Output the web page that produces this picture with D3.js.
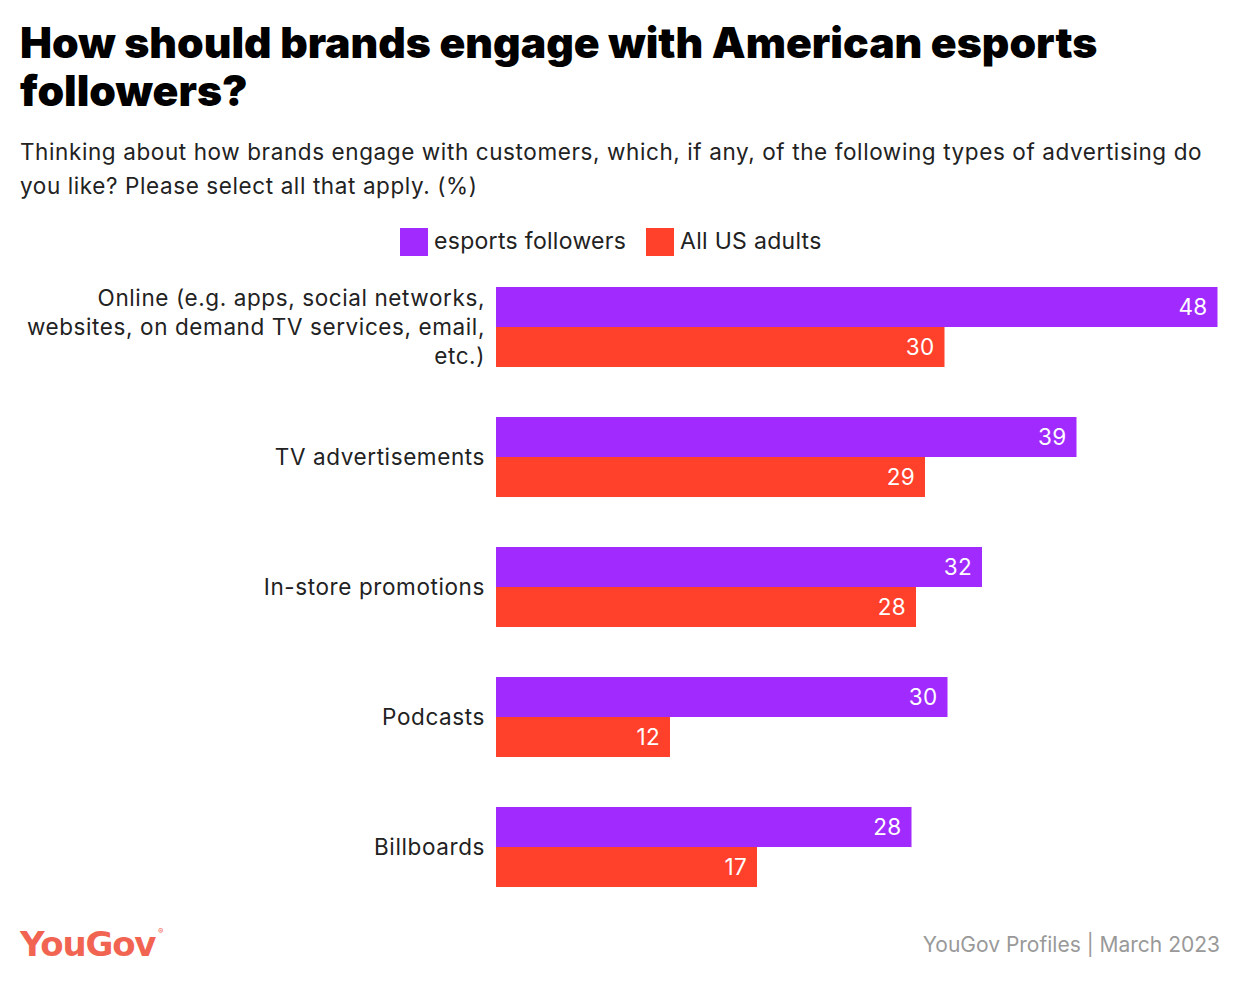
<!DOCTYPE html>
<html><head><meta charset="utf-8">
<script src="https://cdn.jsdelivr.net/npm/d3@7"></script>
<style>body{margin:0;background:#fff}svg{display:block}text{font-family:Inter,"Noto Sans",sans-serif}</style>
</head><body>
<script>
const categories = ["Online (e.g. apps, social networks,|websites, on demand TV services, email,|etc.)","TV advertisements","In-store promotions","Podcasts","Billboards"];
const seriesNames = ["esports followers","All US adults"];
const esports = [48.1,38.7,32.4,30.1,27.7];
const allUS = [29.9,28.6,28.0,11.6,17.4];
const colors = ["#a12bff","#ff412c"];

const W=1240,H=986;
const svg=d3.select("body").append("svg").attr("width",W).attr("height",H);

svg.append("text").attr("x",20).attr("y",58).attr("font-size",42.7).attr("font-weight",900).attr("fill","#000").text("How should brands engage with American esports");
svg.append("text").attr("x",20).attr("y",106).attr("font-size",42.7).attr("font-weight",900).attr("fill","#000").text("followers?");
const sub=svg.append("g").attr("font-size",22.5).attr("fill","#222").attr("letter-spacing",0.6);
sub.append("text").attr("x",20).attr("y",160).text("Thinking about how brands engage with customers, which, if any, of the following types of advertising do");
sub.append("text").attr("x",20).attr("y",194).text("you like? Please select all that apply. (%)");

// legend
const leg=[{x:400,name:seriesNames[0],c:colors[0]},{x:646,name:seriesNames[1],c:colors[1]}];
leg.forEach(l=>{
  svg.append("rect").attr("x",l.x).attr("y",228).attr("width",28).attr("height",28).attr("fill",l.c);
  svg.append("text").attr("x",l.x+34).attr("y",249).attr("font-size",23).attr("letter-spacing",0.3).attr("fill","#222").text(l.name);
});

const x=d3.scaleLinear().domain([0,50]).range([496,1246]);
const y=d3.scaleBand().domain(categories).range([287,887]).paddingInner(50/130).paddingOuter(0);
const ys=d3.scaleBand().domain([0,1]).range([0,y.bandwidth()]);

const data=categories.map((c,i)=>({c,vals:[esports[i],allUS[i]]}));
const g=svg.append("g");
data.forEach(d=>{
  d.vals.forEach((v,j)=>{
    const yy=y(d.c)+ys(j);
    g.append("rect").attr("x",x(0)).attr("y",yy).attr("width",x(v)-x(0)).attr("height",ys.bandwidth()).attr("fill",colors[j]);
    g.append("text").attr("x",x(v)-10).attr("y",yy+ys.bandwidth()/2).attr("dy","0.36em").attr("text-anchor","end").attr("font-size",22.5).attr("letter-spacing",0.3).attr("fill","#fff").text(Math.round(v));
  });
  const lines=d.c.split("|");
  const cy=y(d.c)+y.bandwidth()/2;
  const lh=29;
  lines.forEach((t,k)=>{
    g.append("text").attr("x",485).attr("y",cy+(k-(lines.length-1)/2)*lh).attr("dy","0.36em").attr("text-anchor","end").attr("font-size",22.5).attr("letter-spacing",0.6).attr("fill","#222").text(t);
  });
});

// footer
svg.append("text").attr("x",20).attr("y",956).style("font-family","'DejaVu Sans',sans-serif").attr("font-size",34).attr("font-weight",700).attr("fill","#f26452").attr("letter-spacing",-1.2).text("YouGov");
svg.append("text").attr("x",158).attr("y",934).attr("font-size",8).attr("fill","#f26452").text("®");
svg.append("text").attr("x",1220).attr("y",952).attr("text-anchor","end").attr("font-size",21).attr("fill","#999").text("YouGov Profiles | March 2023");
</script>
</body></html>
